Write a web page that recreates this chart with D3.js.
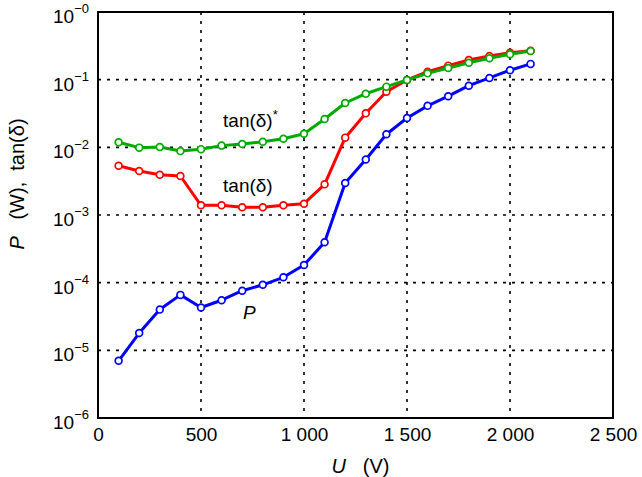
<!DOCTYPE html>
<html>
<head>
<meta charset="utf-8">
<script src="https://cdn.jsdelivr.net/npm/d3@7"></script>
<style>
  body { margin: 0; background: #fff; }
  svg { display: block; font-family: "Liberation Sans", Arial, Helvetica, sans-serif; }
</style>
</head>
<body>
<div id="chart"></div>
<script>
// Data
const voltage = [100, 200, 300, 400, 500, 600, 700, 800, 900, 1000, 1100,
                 1200, 1300, 1400, 1500, 1600, 1700, 1800, 1900, 2000, 2100];
const powerP = [7.0e-6, 1.8e-5, 4.0e-5, 6.6e-5, 4.3e-5, 5.5e-5, 7.6e-5, 9.3e-5, 1.2e-4, 1.82e-4, 3.95e-4,
                2.97e-3, 6.6e-3, 0.0156, 0.0271, 0.041, 0.057, 0.0815, 0.106, 0.138, 0.171];
const tanDelta = [0.00535, 0.00447, 0.00394, 0.00377, 0.00139, 0.00139, 0.0013, 0.0013, 0.00139, 0.00147, 0.00284,
                  0.0139, 0.0318, 0.0664, 0.099, 0.131, 0.161, 0.195, 0.224, 0.25, 0.268];
const tanDeltaStar = [0.0119, 0.0099, 0.0101, 0.0088, 0.0094, 0.0106, 0.0112, 0.0121, 0.0134, 0.0159, 0.0262,
                      0.0452, 0.062, 0.0788, 0.0989, 0.124, 0.149, 0.178, 0.207, 0.237, 0.265];

const xTicks = [0, 500, 1000, 1500, 2000, 2500];
const xTickLabels = ["0", "500", "1 000", "1 500", "2 000", "2 500"];
const yTicks = [1, 1e-1, 1e-2, 1e-3, 1e-4, 1e-5, 1e-6];
const yTickExponents = ["\u22120", "\u22121", "\u22122", "\u22123", "\u22124", "\u22125", "\u22126"];

const series = [
  {name: "P", values: powerP, color: "#0000ff"},
  {name: "tan", values: tanDelta, color: "#ff0000"},
  {name: "tanStar", values: tanDeltaStar, color: "#00aa00"}
];

// Layout
const W = 642, H = 477;
const margin = {top: 12, right: 29, bottom: 59, left: 98},
      width = W - margin.left - margin.right,
      height = H - margin.top - margin.bottom;

const svg = d3.select("#chart")
  .append("svg")
    .attr("width", W)
    .attr("height", H);

const g = svg.append("g")
    .attr("transform", `translate(${margin.left},${margin.top})`);

const x = d3.scaleLinear().domain([0, 2500]).range([0, width]);
const y = d3.scaleLog().domain([1e-6, 1]).range([height, 0]);

// Grid lines (dotted)
g.append("g")
  .selectAll("line")
  .data(xTicks.slice(1, -1))
  .join("line")
    .attr("x1", d => x(d)).attr("x2", d => x(d))
    .attr("y1", 0).attr("y2", height)
    .attr("stroke", "#000")
    .attr("stroke-width", 1.6)
    .attr("stroke-dasharray", "3,6");

g.append("g")
  .selectAll("line")
  .data(yTicks.slice(1, -1))
  .join("line")
    .attr("x1", 0).attr("x2", width)
    .attr("y1", d => y(d)).attr("y2", d => y(d))
    .attr("stroke", "#000")
    .attr("stroke-width", 1.6)
    .attr("stroke-dasharray", "3,6");

// X axis
const xAxis = g.append("g")
  .attr("transform", `translate(0,${height})`)
  .call(d3.axisBottom(x).tickValues(xTicks).tickSize(0).tickPadding(10)
        .tickFormat((d, i) => xTickLabels[i]));
xAxis.select(".domain").remove();
xAxis.selectAll("text")
  .attr("fill", "#000")
  .style("font-size", "19px")
  .style("font-family", "'Liberation Sans', Arial, sans-serif");

// Y axis
const yAxis = g.append("g")
  .call(d3.axisLeft(y).tickValues(yTicks).tickSize(0).tickPadding(22).tickFormat(""));
yAxis.select(".domain").remove();
yAxis.selectAll(".tick text")
  .attr("fill", "#000")
  .attr("dy", "0.55em")
  .style("font-size", "19px")
  .style("font-family", "'Liberation Sans', Arial, sans-serif")
  .each(function(d, i) {
    const t = d3.select(this);
    t.append("tspan").text("10");
    t.append("tspan")
      .attr("dy", "-0.75em")
      .style("font-size", "13px")
      .text(yTickExponents[i]);
  })
  .attr("text-anchor", "start")
  .attr("x", -45);

// Frame
g.append("rect")
  .attr("width", width)
  .attr("height", height)
  .attr("fill", "none")
  .attr("stroke", "#000")
  .attr("stroke-width", 2);

// Lines and markers
const line = d3.line()
  .x((d, i) => x(voltage[i]))
  .y(d => y(d));

series.forEach(s => {
  g.append("path")
    .datum(s.values)
    .attr("fill", "none")
    .attr("stroke", s.color)
    .attr("stroke-width", 3)
    .attr("stroke-linejoin", "round")
    .attr("d", line);

  g.append("g")
    .selectAll("circle")
    .data(s.values)
    .join("circle")
      .attr("cx", (d, i) => x(voltage[i]))
      .attr("cy", d => y(d))
      .attr("r", 3.4)
      .attr("fill", "#fff")
      .attr("stroke", s.color)
      .attr("stroke-width", 1.7);
});

// Curve labels
const lab1 = g.append("text")
  .attr("x", x(607))
  .attr("y", y(Math.pow(10, -1.70)))
  .style("font-size", "19px");
lab1.append("tspan").text("tan(\u03b4)");
lab1.append("tspan").attr("dy", "-0.6em").style("font-size", "13px").text("*");

g.append("text")
  .attr("x", x(607))
  .attr("y", y(Math.pow(10, -2.66)))
  .style("font-size", "19px")
  .text("tan(\u03b4)");

g.append("text")
  .attr("x", x(704))
  .attr("y", y(Math.pow(10, -4.54)))
  .style("font-size", "19px")
  .style("font-style", "italic")
  .text("P");

// Axis labels
const xLabel = svg.append("text")
  .attr("x", margin.left + width / 2 + 5)
  .attr("y", 473)
  .attr("text-anchor", "middle")
  .style("font-size", "20px")
  .style("white-space", "pre");
xLabel.append("tspan").style("font-style", "italic").text("U");
xLabel.append("tspan").text("   (V)");

const yLabel = svg.append("text")
  .attr("transform", "translate(24,184) rotate(-90)")
  .attr("text-anchor", "middle")
  .style("font-size", "20px")
  .style("white-space", "pre");
yLabel.append("tspan").style("font-style", "italic").text("P");
yLabel.append("tspan").text("   (W),  tan(\u03b4)");
</script>
</body>
</html>
